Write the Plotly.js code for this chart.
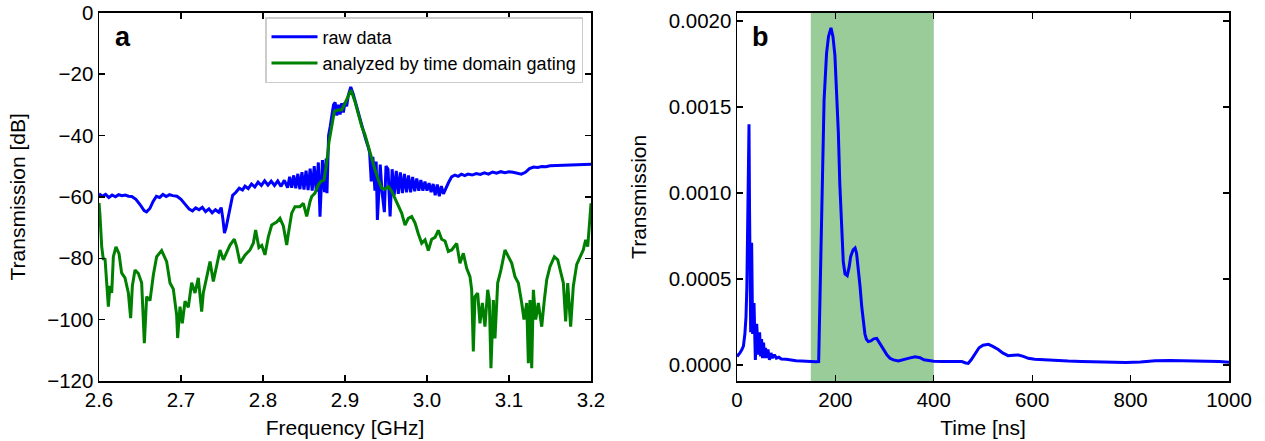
<!DOCTYPE html>
<html>
<head>
<meta charset="utf-8">
<script src="https://cdn.plot.ly/plotly-3.0.1.min.js"></script>
<style>html,body{margin:0;padding:0;background:#fff;}#chart{width:1265px;height:441px;}</style>
</head>
<body>
<div id="chart"></div>
<script>
// ---- Panel a: raw transmission spectrum ----
const freqRaw = [2.600,2.604,2.608,2.612,2.616,2.620,2.624,2.628,2.632,2.636,2.640,2.645,2.650,2.655,2.658,2.662,2.666,2.670,2.674,2.678,2.682,2.686,2.690,2.695,2.700,2.705,2.710,2.714,2.718,2.722,2.726,2.730,2.734,2.738,2.742,2.746,2.749,2.751,2.753,2.755,2.757,2.760,2.763,2.767,2.771,2.775,2.778,2.782,2.786,2.790,2.794,2.798,2.802,2.806,2.810,2.814,2.818,2.822,2.826,2.830,
2.8325,2.835,2.8375,2.840,2.8425,2.845,2.8475,2.850,2.8525,2.855,2.8575,2.860,2.8625,2.865,2.8675,2.8695,2.8725,2.875,2.877,2.878,2.880,2.882,2.884,2.886,2.888,2.890,2.892,2.894,2.896,2.898,2.900,2.902,2.904,2.907,2.910,2.913,2.916,2.919,2.922,2.925,2.928,2.930,2.932,2.934,2.9365,2.938,2.9395,2.943,2.945,2.948,2.950,2.9525,2.955,2.9575,2.960,2.9625,2.965,2.9675,2.970,2.9725,2.975,2.9775,2.980,2.9825,2.985,2.9875,2.990,2.9925,2.995,2.9975,3.000,3.0025,3.005,3.0075,3.010,3.0125,3.015,3.0175,3.020,3.023,3.026,3.030,3.034,3.038,3.042,3.046,3.050,3.055,3.060,3.065,3.070,3.075,3.080,3.085,3.090,3.095,3.100,3.105,3.110,3.115,3.120,3.125,3.130,3.135,3.140,3.145,3.150,3.160,3.170,3.180,3.190,3.200];
const rawDb = [-59.0,-59.8,-59.2,-60.2,-59.4,-60.0,-59.3,-59.6,-59.4,-59.8,-59.9,-60.8,-62.5,-64.5,-64.9,-63.8,-61.5,-59.8,-60.2,-59.2,-59.9,-59.3,-59.6,-59.8,-60.8,-62.5,-64.0,-64.6,-63.6,-64.2,-63.4,-64.8,-63.9,-65.2,-64.2,-65.0,-63.5,-67.0,-71.8,-70.0,-67.5,-63.5,-59.5,-58.5,-57.2,-57.8,-56.5,-57.3,-55.8,-56.8,-55.2,-56.3,-54.8,-56.2,-54.9,-56.3,-54.8,-56.6,-54.6,-57.0,
-53.5,-57.0,-53.0,-57.2,-52.5,-57.5,-52.0,-57.6,-51.5,-57.8,-50.8,-58.0,-50.0,-58.3,-48.8,-66.5,-48.0,-58.5,-47.5,-58.8,-40.0,-37.0,-33.0,-30.0,-29.2,-33.5,-30.0,-33.2,-29.5,-32.5,-29.2,-30.5,-27.0,-24.2,-26.5,-29.5,-32.5,-35.5,-38.5,-41.0,-43.5,-45.5,-55.0,-47.0,-58.0,-48.5,-67.5,-49.5,-58.0,-65.0,-50.0,-51.0,-66.4,-51.0,-59.5,-51.5,-59.0,-52.0,-58.8,-52.5,-58.5,-53.0,-58.5,-53.5,-58.2,-54.0,-58.0,-54.5,-58.0,-55.0,-58.0,-55.5,-58.5,-55.8,-59.5,-56.0,-59.8,-56.5,-59.0,-57.0,-55.5,-53.5,-52.9,-53.3,-52.6,-53.1,-52.6,-52.9,-52.4,-52.7,-52.2,-52.6,-51.9,-52.3,-51.8,-52.1,-51.8,-52.0,-52.4,-52.6,-52.0,-50.8,-50.3,-50.4,-50.1,-50.2,-49.9,-49.8,-49.6,-49.5,-49.4,-49.4];

// ---- Panel a: spectrum analyzed by time domain gating ----
const freqGated = [2.6000,2.6012,2.6033,2.6053,2.6073,2.6094,2.6114,2.6134,2.6155,2.6175,2.6207,2.6244,2.6276,2.6317,2.6358,2.6386,2.6407,2.6439,2.6480,2.6520,2.6553,2.6581,2.6622,2.6663,2.6703,2.6764,2.6825,2.6866,2.6906,2.6947,2.6959,2.6988,2.7016,2.7049,2.7089,2.7130,2.7171,2.7211,2.7252,2.7272,2.7313,2.7354,2.7394,2.7435,2.7476,2.7516,2.7557,2.7598,2.7650,2.7679,2.7720,2.7780,2.7841,2.7882,2.7910,2.7950,2.7985,2.8024,2.8065,2.8106,2.8167,2.8207,2.8248,2.8289,2.8309,2.8350,2.8390,2.8451,2.8492,2.8533,2.8573,2.8594,2.8634,2.8675,2.8707,2.8744,2.8777,2.8805,2.8838,2.8870,2.8911,2.8960,2.9000,2.9073,2.9122,2.9163,2.9204,2.9244,2.9285,2.9326,2.9366,2.9407,2.9448,2.9488,2.9529,2.9570,2.9610,2.9650,2.9691,2.9732,2.9772,2.9813,2.9854,2.9894,2.9935,2.9976,3.0016,3.0057,3.0098,3.0138,3.0179,3.0220,3.0260,3.0301,3.0362,3.0402,3.0443,3.0484,3.0524,3.0545,3.0565,3.0585,3.0618,3.0646,3.0675,3.0707,3.0740,3.0760,3.0780,3.0809,3.0829,3.0862,3.0902,3.0951,3.0992,3.1033,3.1073,3.1114,3.1155,3.1183,3.1216,3.1236,3.1256,3.1277,3.1297,3.1326,3.1358,3.1399,3.1431,3.1460,3.1500,3.1553,3.1594,3.1622,3.1663,3.1691,3.1716,3.1752,3.1784,3.1826,3.1866,3.1906,3.1935,3.1960,3.1988,3.2000];
const gatedDb = [-62.0,-66.0,-76.2,-80.5,-80.0,-89.2,-95.8,-89.0,-91.3,-79.5,-76.3,-78.5,-84.8,-86.4,-91.3,-99.5,-89.0,-83.8,-85.0,-88.0,-107.7,-92.5,-93.8,-85.4,-79.5,-77.5,-81.1,-88.1,-90.0,-98.5,-106.0,-95.8,-101.2,-94.0,-96.0,-88.0,-91.3,-86.4,-97.4,-91.3,-86.4,-81.1,-87.6,-82.6,-77.3,-80.5,-78.2,-75.7,-73.8,-76.3,-81.6,-79.0,-77.3,-75.1,-70.8,-76.5,-75.8,-78.9,-73.0,-69.2,-68.2,-67.0,-69.5,-75.7,-72.0,-65.3,-63.2,-63.2,-62.1,-66.4,-61.6,-59.9,-58.8,-56.1,-55.0,-54.5,-49.0,-42.0,-37.1,-32.2,-31.7,-31.7,-29.5,-25.2,-29.0,-33.3,-37.1,-39.8,-43.6,-48.0,-51.2,-54.5,-57.2,-57.5,-56.7,-58.2,-60.5,-63.2,-65.3,-69.2,-67.0,-66.4,-68.5,-72.0,-75.1,-74.0,-77.5,-73.8,-73.2,-70.9,-73.8,-74.4,-77.8,-77.3,-75.2,-81.6,-78.4,-83.3,-86.0,-90.3,-110.4,-92.5,-91.4,-101.2,-94.6,-102.3,-90.3,-93.6,-115.8,-93.6,-106.1,-88.1,-83.8,-77.3,-79.5,-81.6,-86.0,-88.1,-94.6,-100.0,-94.6,-114.2,-93.6,-115.8,-90.3,-100.0,-94.6,-102.3,-93.6,-87.0,-82.7,-79.5,-80.5,-83.8,-88.1,-100.6,-88.1,-102.3,-89.2,-82.0,-79.5,-77.3,-74.0,-76.2,-66.4,-62.1];

// ---- Panel b: time-domain transmission ----
const timeNs = [0,3,6,10,13,16,18.3,20,21.7,23,24.4,25.5,26.4,27.8,29.8,31,31.8,34.6,36,37.3,40,42,43.4,46,48,50,52,54,56,58,60,63,66,69,72,76,80,85,90,100,110,120,131,145,160,166,168.7,172,177,182,186,191,195,199,203,206,209,212.7,216,219.5,224,228,231,236,240,243,246.5,250,253.5,257,260,263,267,272,278,284,289,294,300,305,311,318,328,340,350,362,372,380,389,400,416,440,457,465,470,476,484,492,500,511,520,531,540,551,562,572,582,592,605,626,650,673,700,728,760,790,820,850,880,910,950,980,1000];
const transmission = [0.00005,0.00006,0.00007,0.00009,0.00011,0.00018,0.00028,0.00045,0.00077,0.0011,0.0014,0.0009,0.00057,0.00019,0.00071,0.0003,0.00018,0.00036,0.0001,0.00003,0.00024,0.00008,0.00006,0.00019,0.00005,0.00015,0.00004,0.00013,0.00004,0.0001,0.00004,0.00009,0.00003,0.00007,0.00004,0.00006,0.00004,0.000045,0.000035,0.000033,0.000028,0.000025,0.000023,0.00002,0.000019,0.00002,0.00038,0.00096,0.00154,0.00181,0.00191,0.00196,0.00191,0.0018,0.00158,0.00135,0.00105,0.00077,0.0006,0.00053,0.00052,0.00057,0.00063,0.00067,0.00068,0.00065,0.00057,0.00046,0.00034,0.00024,0.00018,0.00015,0.000136,0.00014,0.000152,0.000155,0.00013,0.000107,0.00008,0.000058,0.000039,0.00003,0.000023,0.00003,0.00004,0.000048,0.000042,0.00003,0.000025,0.000022,0.000021,0.00002,0.00002,0.000012,0.00001,0.00003,0.000068,0.0001,0.000115,0.00012,0.000108,0.00009,0.00007,0.000054,0.000057,0.000058,0.00005,0.000039,0.000034,0.00003,0.000026,0.000023,0.000021,0.000018,0.000016,0.000015,0.000018,0.000025,0.000026,0.000025,0.000022,0.00002,0.000016];

const gateWindow = [150, 400];
const yTicksA = [-120,-100,-80,-60,-40,-20,0];
const yTickTextA = ["\u2212120","\u2212100","\u221280","\u221260","\u221240","\u221220","0"];
const xTicksA = [2.6,2.7,2.8,2.9,3.0,3.1,3.2];
const yTicksB = [0,0.0005,0.001,0.0015,0.002];
const xTicksB = [0,200,400,600,800,1000];

const FONT = "Liberation Sans, Arial, Helvetica, sans-serif";
const W = 1265, H = 441;
const axisCommon = {
  showline: true, linecolor: "#000", linewidth: 1.5, mirror: "ticks",
  ticks: "inside", ticklen: 6, tickwidth: 1.3, tickcolor: "#000",
  showgrid: false, zeroline: false,
  tickfont: {family: FONT, size: 20.5, color: "#000"},
  title: {font: {family: FONT, size: 21, color: "#000"}}
};
function ax(extra){ return Object.assign(JSON.parse(JSON.stringify(axisCommon)), extra, {title: Object.assign({}, axisCommon.title, extra.title||{})}); }

const traces = [
  {x: freqRaw, y: rawDb, type: "scatter", mode: "lines", name: "raw data",
   line: {color: "#0000ff", width: 3}, xaxis: "x", yaxis: "y"},
  {x: freqGated, y: gatedDb, type: "scatter", mode: "lines", name: "analyzed by time domain gating",
   line: {color: "#008000", width: 3}, xaxis: "x", yaxis: "y"},
  {x: timeNs, y: transmission, type: "scatter", mode: "lines", name: "time domain",
   line: {color: "#0000ff", width: 3}, xaxis: "x2", yaxis: "y2", showlegend: false}
];

const yTop = 1 - 12.7/H, yBot = 1 - 381/H;
const layout = {
  width: W, height: H,
  margin: {l: 0, r: 0, t: 0, b: 0},
  paper_bgcolor: "#fff", plot_bgcolor: "#fff",
  font: {family: FONT, color: "#000"},
  showlegend: true,
  legend: {x: 265/W, y: 1 - 17/H, xanchor: "left", yanchor: "top", itemwidth: 46,
    bgcolor: "rgba(255,255,255,0.85)", bordercolor: "#cccccc", borderwidth: 1.5,
    font: {family: FONT, size: 18, color: "#000"}, tracegroupgap: 0},
  xaxis: ax({domain: [99/W, 591/W], range: [2.6, 3.2], tickvals: xTicksA, tickformat: ".1f",
    anchor: "y", title: {text: "Frequency [GHz]", standoff: 10}}),
  yaxis: ax({domain: [yBot, yTop], range: [-120, 0], tickvals: yTicksA, ticktext: yTickTextA,
    anchor: "x", title: {text: "Transmission [dB]", standoff: 16}}),
  xaxis2: ax({domain: [737/W, 1229/W], range: [0, 1000], tickvals: xTicksB,
    anchor: "y2", title: {text: "Time [ns]", standoff: 10}}),
  yaxis2: ax({domain: [yBot, yTop], range: [-0.000093, 0.002048], tickvals: yTicksB, tickformat: ".4f",
    anchor: "x2", title: {text: "Transmission", standoff: 16}}),
  shapes: [{type: "rect", xref: "x2", yref: "y2 domain", x0: gateWindow[0], x1: gateWindow[1], y0: 0, y1: 1,
    fillcolor: "rgba(0,128,0,0.4)", line: {width: 0}, layer: "below"}],
  annotations: [
    {text: "<b>a</b>", xref: "paper", yref: "paper", x: 113/W, y: 1 - 20/H, xanchor: "left", yanchor: "top", showarrow: false,
     font: {family: "Liberation Sans, Arial, sans-serif", size: 27, color: "#000"}},
    {text: "<b>b</b>", xref: "paper", yref: "paper", x: 750/W, y: 1 - 20/H, xanchor: "left", yanchor: "top", showarrow: false,
     font: {family: "Liberation Sans, Arial, sans-serif", size: 27, color: "#000"}}
  ]
};
Plotly.newPlot("chart", traces, layout, {staticPlot: true, displayModeBar: false});
</script>
</body>
</html>
